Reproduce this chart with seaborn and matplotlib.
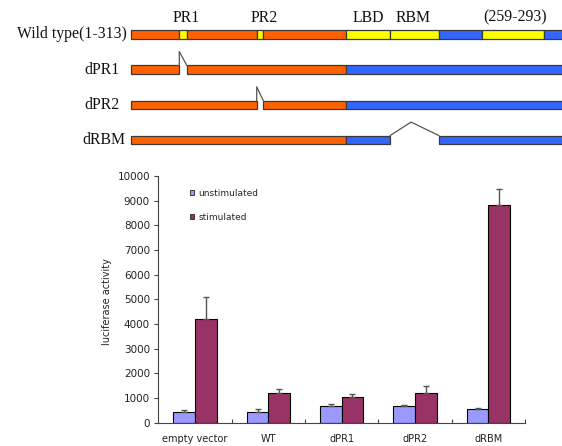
import matplotlib
matplotlib.use("Agg")
import matplotlib.pyplot as plt
from matplotlib.patches import Rectangle, Patch
import seaborn as sns
import pandas as pd
import numpy as np

# ---------------- bar chart data ----------------
categories = ["empty vector", "WT", "dPR1", "dPR2", "dRBM"]
series = ["unstimulated", "stimulated"]
unstimulated = [420, 450, 670, 670, 545]
unstimulated_err = [100, 110, 80, 65, 45]
stimulated = [4190, 1220, 1030, 1200, 8820]
stimulated_err = [900, 160, 135, 270, 640]
y_ticks = [0, 1000, 2000, 3000, 4000, 5000, 6000, 7000, 8000, 9000, 10000]
y_label = "luciferase activity"

# ---------------- schematic data (diagram units) ----------------
constructs = ["Wild type(1-313)", "dPR1", "dPR2", "dRBM"]
wt_segments = [(130.7, 179.3, "N"), (179.3, 186.7, "Y"), (186.7, 256.7, "N"),
               (256.7, 263.3, "Y"), (263.3, 345.7, "N"), (345.7, 390, "Y"),
               (390, 439, "Y"), (439, 481.7, "C"), (481.7, 544, "Y"), (544, 566, "C")]
dpr1_segments = [(130.7, 179.3, "N"), (186.7, 345.7, "N"), (345.7, 566, "C")]
dpr2_segments = [(130.7, 256.7, "N"), (263.3, 345.7, "N"), (345.7, 566, "C")]
drbm_segments = [(130.7, 345.7, "N"), (345.7, 390, "C"), (439, 566, "C")]
deletions = [None, (179.3, 186.7, "spike"), (256.7, 263.3, "spike"), (390, 439, "tent")]
domain_labels = ["PR1", "PR2", "LBD", "RBM", "(259-293)"]
domain_label_x = [186.7, 264.5, 368, 413, 515]

# ---------------- layout / style ----------------
row_y = [34.5, 69.7, 105.0, 140.0]
row_label_x = [126.5, 120.0, 120.0, 125.0]
bar_h = 8.8
kind_colors = {"N": "#FF6100", "Y": "#FFFF00", "C": "#3366FF"}
seg_edge = "#3a3a3a"

sns.set_style("white")
plt.rcParams["font.family"] = ["DejaVu Sans"]

fig = plt.figure(figsize=(5.62, 4.46), dpi=100)
fig.patch.set_facecolor("white")

# schematic overlay axes in pixel-like coordinates
sch = fig.add_axes([0, 0, 1, 1])
sch.set_xlim(0, 562)
sch.set_ylim(446, 0)
sch.axis("off")

all_segments = [wt_segments, dpr1_segments, dpr2_segments, drbm_segments]
serif = ["Liberation Serif", "DejaVu Serif"]
for i, (name, segs) in enumerate(zip(constructs, all_segments)):
    yc = row_y[i]
    top = yc - bar_h / 2
    for s, e, k in segs:
        sch.add_patch(Rectangle((s, top), e - s, bar_h, facecolor=kind_colors[k],
                                edgecolor=seg_edge, linewidth=0.9))
    d = deletions[i]
    if d is not None:
        s, e, kind = d
        if kind == "spike":
            sch.plot([s, s, e], [top, top - 13.8, top], color="#555555", lw=0.9)
        else:
            sch.plot([s, s + 0.43 * (e - s), e], [top, top - 13.5, top], color="#555555", lw=0.9)
    sch.text(row_label_x[i], yc, name, ha="right", va="center", fontsize=11.3,
             family=serif, color="#111111")

for lab, x in zip(domain_labels, domain_label_x):
    sch.text(x, 21.7, lab, ha="center", va="baseline", fontsize=11.3, family=serif,
             color="#111111")

# ---------------- bar chart ----------------
df = pd.DataFrame({
    "construct": categories * 2,
    "condition": [series[0]] * len(categories) + [series[1]] * len(categories),
    "activity": unstimulated + stimulated,
})
bar_colors = ["#9999FF", "#993366"]
ax = fig.add_axes([0.2817, 0.0522, 0.6525, 0.5532])
sns.barplot(data=df, x="construct", y="activity", hue="condition", order=categories,
            hue_order=series, palette=bar_colors, width=0.59, errorbar=None,
            edgecolor="black", linewidth=0.8, saturation=1, legend=False, ax=ax)

errs = [unstimulated_err, stimulated_err]
for cont, err in zip(ax.containers, errs):
    xs = [b.get_x() + b.get_width() / 2 for b in cont]
    ys = [b.get_height() for b in cont]
    ax.errorbar(xs, ys, yerr=[np.zeros(len(err)), err], fmt="none", ecolor="#555555",
                elinewidth=1.0, capsize=2.5, capthick=1.0, zorder=1)

ax.set_xlim(-0.5, len(categories) - 0.5)
ax.set_ylim(0, 10000)
ax.set_yticks(y_ticks)
ax.set_yticklabels([str(t) for t in y_ticks])
ax.set_xlabel("")
ax.set_ylabel(y_label, fontsize=7, color="#222222")
ax.yaxis.set_label_coords(-0.125, 0.49)
for sp in ["top", "right"]:
    ax.spines[sp].set_visible(False)
for sp in ["left", "bottom"]:
    ax.spines[sp].set_color("#444444")
    ax.spines[sp].set_linewidth(0.8)
ax.tick_params(axis="y", direction="out", length=3, width=0.8, color="#444444",
               labelsize=7.5, labelcolor="#222222", pad=3, left=True)
ax.tick_params(axis="x", which="major", length=0, labelsize=7, labelcolor="#222222", pad=8)
ax.set_xticks(np.arange(len(categories)) + 0.5, minor=True)
ax.tick_params(axis="x", which="minor", direction="in", length=3, width=0.8,
               color="#444444", bottom=True)
ax.set_facecolor("none")

handles = [Patch(facecolor=c, edgecolor="#222222", linewidth=0.6) for c in bar_colors]
ax.legend(handles, series, loc="upper left", bbox_to_anchor=(0.3375, 0.5767),
          bbox_transform=fig.transFigure, frameon=False, fontsize=6.5,
          handlelength=0.5, handleheight=0.5, handletextpad=0.5, labelspacing=1.65,
          borderpad=0, borderaxespad=0)

fig.savefig("out.png", dpi=100, facecolor="white")
